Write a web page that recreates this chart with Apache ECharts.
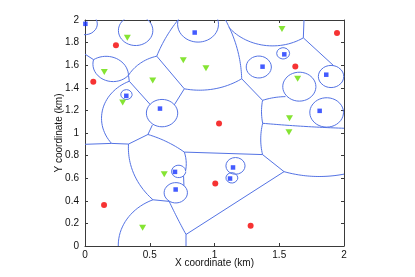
<!DOCTYPE html>
<html><head><meta charset="utf-8">
<script src="https://cdn.jsdelivr.net/npm/echarts/dist/echarts.min.js"></script>
<style>html,body{margin:0;padding:0;background:#fff}#c{width:415px;height:277px}</style>
</head><body><div id="c"></div>
<script>
// ---- data (km) ----
const xTicks = [0, 0.5, 1, 1.5, 2];
const yTicks = [0, 0.2, 0.4, 0.6, 0.8, 1, 1.2, 1.4, 1.6, 1.8, 2];
const xTitle = 'X coordinate (km)';
const yTitle = 'Y coordinate (km)';

const redPoints = [[0.239,1.776],[0.064,1.453],[1.946,1.886],[1.624,1.589],[1.035,1.083],[0.147,0.363],[1.006,0.553],[1.279,0.18]];
const greenPoints = [[0.327,1.842],[0.149,1.54],[0.523,1.465],[0.759,1.643],[0.291,1.27],[1.521,1.92],[0.934,1.572],[1.642,1.48],[1.579,1.131],[1.575,1.006],[0.612,0.636],[0.445,0.162]];
const bluePoints = [[0.003,1.966],[0.847,1.889],[0.319,1.329],[0.579,1.216],[1.539,1.696],[1.371,1.587],[1.863,1.516],[1.812,1.196],[0.695,0.656],[0.700,0.5],[1.143,0.695],[1.12,0.597]];

// full circles: [cx, cy, r]
const circles = [
  [0.0,1.965,0.095],[0.391,1.907,0.133],[0.32,1.34,0.044],[0.595,1.176,0.121],
  [0.873,1.9625,0.158],[1.342,1.584,0.097],[1.53,1.705,0.05],[1.655,1.41,0.128],
  [1.9,1.5,0.098],[1.866,1.182,0.13],[0.723,0.66,0.055],[0.701,0.471,0.09],
  [1.162,0.709,0.074],[1.134,0.603,0.046]
];
// arcs through three points: [x1,y1, xm,ym, x2,y2]
const arcs = [
  [0.066,1.649, 0.193,1.676, 0.336,1.511],
  [0.066,1.649, 0.185,1.458, 0.336,1.511],
  [0.336,1.511, 0.402,1.596, 0.554,1.68],
  [0.554,1.68, 0.629,1.853, 0.718,2.0],
  [0.767,1.391, 0.981,1.387, 1.210,1.48],
  [1.085,2.0, 1.166,1.782, 1.210,1.48],
  [1.112,1.933, 1.444,1.771, 1.686,1.842],
  [1.371,1.289, 1.459,1.313, 1.548,1.322],
  [1.371,1.289, 1.363,1.196, 1.372,1.086],
  [1.372,1.086, 1.699,1.058, 2.0,1.042],
  [1.372,1.086, 1.357,0.947, 1.371,0.809],
  [1.537,0.658, 1.737,0.618, 2.0,0.636],
  [0.65,0.395, 0.722,0.227, 0.780,0.102],
  [0.336,0.902, 0.415,0.556, 0.525,0.409],
  [0.525,0.409, 0.317,0.227, 0.257,0.0],
  [0.342,1.458, 0.131,1.180, 0.205,0.908],
  [0.486,0.987, 0.625,0.926, 0.767,0.831],
  [0.767,0.831, 0.782,0.724, 0.776,0.662]
];
// straight segments: [x1,y1, x2,y2]
const segments = [
  [0,1.698, 0.066,1.649],
  [0.554,1.68, 0.767,1.391],
  [1.686,1.842, 1.691,2.0],
  [1.686,1.842, 1.92,1.596],
  [1.210,1.48, 1.371,1.289],
  [0.767,0.831, 1.371,0.809],
  [1.371,0.809, 1.537,0.658],
  [1.537,0.658, 0.780,0.102],
  [0.780,0.102, 0.780,0],
  [0.525,0.409, 0.65,0.395],
  [0,0.9, 0.205,0.908],
  [0.205,0.908, 0.336,0.902],
  [0.336,1.511, 0.342,1.458],
  [0.342,1.458, 0.502,1.254],
  [0.767,1.391, 0.69,1.25],
  [0.336,0.902, 0.486,0.987],
  [0.486,0.987, 0.52,1.07],
  [0.761,0.618, 0.764,0.533]
];

// ---- geometry helpers ----
function circlePts(c){
  const [cx,cy,r]=c, out=[];
  for(let i=0;i<=120;i++){const t=2*Math.PI*i/120; out.push([cx+r*Math.cos(t), cy+r*Math.sin(t)]);}
  return out;
}
function arcPts(a){
  const [x1,y1,x2,y2,x3,y3]=a;
  const d=2*(x1*(y2-y3)+x2*(y3-y1)+x3*(y1-y2));
  if(Math.abs(d)<1e-12) return [[x1,y1],[x3,y3]];
  const s1=x1*x1+y1*y1,s2=x2*x2+y2*y2,s3=x3*x3+y3*y3;
  const ux=(s1*(y2-y3)+s2*(y3-y1)+s3*(y1-y2))/d;
  const uy=(s1*(x3-x2)+s2*(x1-x3)+s3*(x2-x1))/d;
  const r=Math.hypot(x1-ux,y1-uy);
  const T=2*Math.PI, nm=t=>((t%T)+T)%T;
  const t1=Math.atan2(y1-uy,x1-ux),t2=Math.atan2(y2-uy,x2-ux),t3=Math.atan2(y3-uy,x3-ux);
  const e3=nm(t3-t1), e2=nm(t2-t1);
  const sweep = e2<e3 ? e3 : e3-T;
  const out=[];
  for(let i=0;i<=60;i++){const t=t1+sweep*i/60; out.push([ux+r*Math.cos(t), uy+r*Math.sin(t)]);}
  return out;
}

const lineColor='#5473e4';
const series=[];
function addLine(pts){
  series.push({type:'line',data:pts,showSymbol:false,symbol:'none',silent:true,animation:false,clip:true,
    lineStyle:{color:lineColor,width:1},z:2,xAxisIndex:0,yAxisIndex:0});
}
circles.forEach(c=>addLine(circlePts(c)));
arcs.forEach(a=>addLine(arcPts(a)));
segments.forEach(s=>addLine([[s[0],s[1]],[s[2],s[3]]]));

series.push({type:'scatter',data:redPoints,symbol:'circle',symbolSize:6,itemStyle:{color:'#f40000'},z:5,clip:false,animation:false});
series.push({type:'scatter',data:greenPoints,symbol:'triangle',symbolRotate:180,symbolSize:[7,6],itemStyle:{color:'#66dd00'},z:5,clip:false,animation:false});
series.push({type:'scatter',data:bluePoints,symbol:'rect',symbolSize:4.5,itemStyle:{color:'#1432ff'},z:5,clip:false,animation:false});

const font='Liberation Sans, Arial, Helvetica, sans-serif';
const axisColor='#3a3a3a';
function axisBase(ticks, pos, showLabel){
  return {type:'value',min:ticks[0],max:ticks[ticks.length-1],interval:ticks[1]-ticks[0],position:pos,
    axisLine:{show:true,onZero:false,lineStyle:{color:axisColor,width:1}},
    axisTick:{show:true,inside:true,length:3,lineStyle:{color:axisColor}},
    splitLine:{show:false},
    axisLabel:{show:showLabel,fontSize:10,fontFamily:font,color:'#111',margin:4,
      formatter:v=>String(+v.toFixed(2))}};
}
const xBottom=Object.assign(axisBase(xTicks,'bottom',true),{name:xTitle,nameLocation:'middle',nameGap:12,
  nameMoveOverlap:false,nameTextStyle:{fontSize:10,fontFamily:font,color:'#111'}});
const yLeft=Object.assign(axisBase(yTicks,'left',true),{name:yTitle,nameLocation:'middle',nameGap:21,
  nameMoveOverlap:false,nameTextStyle:{fontSize:10,fontFamily:font,color:'#111'}});
yLeft.axisLabel.margin=6;

const chart=echarts.init(document.getElementById('c'),null,{renderer:'canvas'});
chart.setOption({
  animation:false,
  backgroundColor:'#fff',
  grid:{left:85,right:71,top:20,bottom:31,containLabel:false},
  xAxis:[xBottom, axisBase(xTicks,'top',false)],
  yAxis:[yLeft, axisBase(yTicks,'right',false)],
  series:series
});
</script></body></html>
